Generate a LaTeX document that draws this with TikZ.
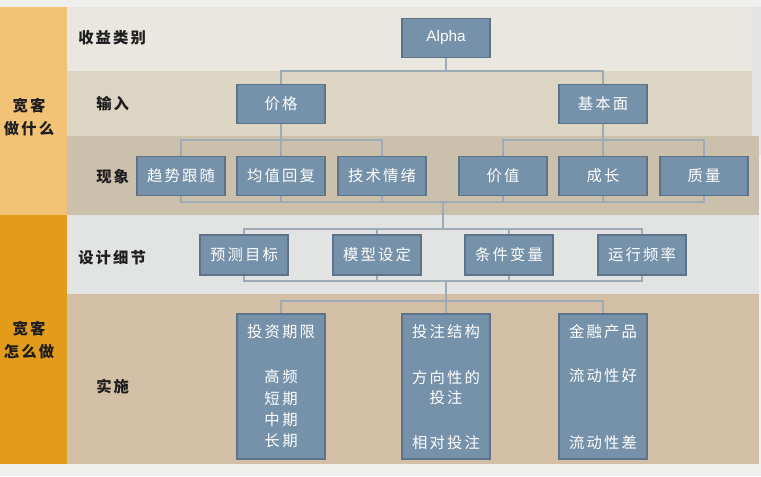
\documentclass[tikz,border=0pt]{standalone}
\usepackage{fontspec}
\setmainfont{Liberation Sans}
\newfontfamily\cjk[LetterSpace=14]{Noto Sans CJK SC}
\usepackage{xcolor}
\usetikzlibrary{positioning}

\definecolor{topstrip}{HTML}{EFEFEE}
\definecolor{orangeA}{HTML}{F2C276}
\definecolor{orangeB}{HTML}{E39C1A}
\definecolor{rowA}{HTML}{EAE7E0}
\definecolor{rowB}{HTML}{DCD5C4}
\definecolor{rowC}{HTML}{CAC0AB}
\definecolor{rowD}{HTML}{E2E4E4}
\definecolor{rowE}{HTML}{D3BFA5}
\definecolor{boxblue}{HTML}{7692AA}
\definecolor{boxedge}{HTML}{5E7388}
\definecolor{linkgray}{HTML}{9DABB7}
\definecolor{labeltext}{HTML}{1E1E1E}

\begin{document}
\begin{tikzpicture}[x=0.75pt, y=-0.75pt,
    box/.style={draw=boxedge, fill=boxblue, line width=0.8pt, inner sep=0pt,
        minimum width=66pt, minimum height=29.5pt, text=white,
        font=\cjk\fontsize{11.5}{13}\selectfont},
    tallbox/.style={box, minimum height=108.75pt},
    intext/.style={text=white, inner sep=0pt, font=\cjk\fontsize{11.5}{13}\selectfont},
    rowlabel/.style={anchor=west, inner sep=0pt, text=labeltext,
        font=\cjk\bfseries\fontsize{11.5}{13}\selectfont},
    sidelabel/.style={align=center, inner sep=0pt, text=labeltext,
        font=\cjk\bfseries\fontsize{11.5}{17}\selectfont},
    link/.style={draw=linkgray, line width=0.8pt}]
    \useasboundingbox (0,0) rectangle (761,476);

    % Bands
    \fill[topstrip] (0,0) rectangle (761,476);
    \fill[orangeA] (0,7) rectangle (67,215);
    \fill[orangeB] (0,215) rectangle (67,464);
    \fill[rowA] (67,7) rectangle (752,71);
    \fill[rowB] (67,71) rectangle (752,136);
    \fill[gray!22] (752,7) rectangle (761,155);
    \fill[rowC] (67,136) rectangle (759,215);
    \fill[rowD] (67,215) rectangle (759,294);
    \fill[rowE] (67,294) rectangle (759,464);

    % Side and row labels
    \node[sidelabel] (what) at (29,117) {宽客\\做什么};
    \node[sidelabel] (how) at (29,340) {宽客\\怎么做};
    \node[rowlabel] (lblalpha) at (78,38) {收益类别};
    \node[rowlabel] (lblinput) at (96,104) {输入};
    \node[rowlabel] (lblphen) at (96,177) {现象};
    \node[rowlabel] (lbldesign) at (78,258) {设计细节};
    \node[rowlabel] (lblimpl) at (96,387) {实施};

    % Alpha and inputs
    \node[box, font=\fontsize{11.5}{13}\selectfont] (alpha) at (446,38) {Alpha};
    \node[box] (price) at (281,104) {价格};
    \node[box] (fund) at (603,104) {基本面};

    % Phenomena
    \node[box] (trend) at (181,176) {趋势跟随};
    \node[box] (meanrev) at (281,176) {均值回复};
    \node[box] (sentiment) at (382,176) {技术情绪};
    \node[box] (value) at (503,176) {价值};
    \node[box] (growth) at (603,176) {成长};
    \node[box] (quality) at (704,176) {质量};

    % Design details
    \node[box, minimum height=30pt] (target) at (244,255) {预测目标};
    \node[box, minimum height=30pt] (model) at (377,255) {模型设定};
    \node[box, minimum height=30pt] (condvar) at (509,255) {条件变量};
    \node[box, minimum height=30pt] (freq) at (642,255) {运行频率};

    % Implementation
    \node[tallbox] (horizon) at (281,386.5) {};
    \node[tallbox] (structure) at (446,386.5) {};
    \node[tallbox] (product) at (603,386.5) {};
    \node[intext] (hz0) at (281,332) {投资期限};
    \node[intext] (hz1) at (281,377) {高\,频};
    \node[intext] (hz2) at (281,399) {短\,期};
    \node[intext] (hz3) at (281,420) {中\,期};
    \node[intext] (hz4) at (281,441) {长\,期};
    \node[intext] (st0) at (446,332) {投注结构};
    \node[intext, align=center, font=\cjk\fontsize{11.5}{15}\selectfont] (st1) at (446,388) {方向性的\\投注};
    \node[intext] (st2) at (446,443) {相对投注};
    \node[intext] (pr0) at (603,332) {金融产品};
    \node[intext] (pr1) at (603,376) {流动性好};
    \node[intext] (pr2) at (603,443) {流动性差};

    % Junctions
    \coordinate (busA) at (446,71);
    \coordinate (busP) at (281,140);
    \coordinate (busF) at (603,140);
    \coordinate (busB) at (443,202);
    \coordinate (busC) at (443,229);
    \coordinate (busD) at (446,281);
    \coordinate (busE) at (446,301);

    % Connectors
    \draw[link] (alpha) -- (busA);
    \draw[link] (busA) -| (price);
    \draw[link] (busA) -| (fund);
    \draw[link] (price) -- (busP);
    \draw[link] (busP) -| (trend);
    \draw[link] (busP) -- (meanrev);
    \draw[link] (busP) -| (sentiment);
    \draw[link] (fund) -- (busF);
    \draw[link] (busF) -| (value);
    \draw[link] (busF) -- (growth);
    \draw[link] (busF) -| (quality);
    \draw[link] (trend.south) |- (busB);
    \draw[link] (meanrev.south) |- (busB);
    \draw[link] (sentiment.south) |- (busB);
    \draw[link] (value.south) |- (busB);
    \draw[link] (growth.south) |- (busB);
    \draw[link] (quality.south) |- (busB);
    \draw[link] (busB) -- (busC);
    \draw[link] (busC) -| (target);
    \draw[link] (busC) -| (model);
    \draw[link] (busC) -| (condvar);
    \draw[link] (busC) -| (freq);
    \draw[link] (target.south) |- (busD);
    \draw[link] (model.south) |- (busD);
    \draw[link] (condvar.south) |- (busD);
    \draw[link] (freq.south) |- (busD);
    \draw[link] (busD) -- (busE);
    \draw[link] (busE) -| (horizon);
    \draw[link] (busE) -| (structure);
    \draw[link] (busE) -| (product);
\end{tikzpicture}
\end{document}
